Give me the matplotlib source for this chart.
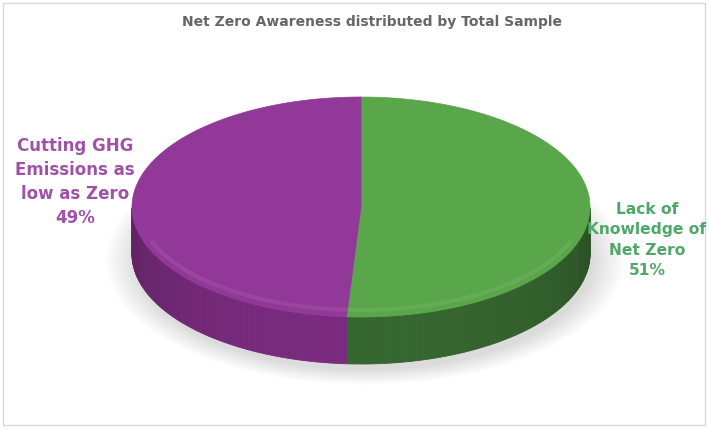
import numpy as np
import matplotlib
matplotlib.use("Agg")
import matplotlib.pyplot as plt
from matplotlib.patches import Polygon, Ellipse, Rectangle

title = "Net Zero Awareness distributed by Total Sample"
labels = ["Lack of\nKnowledge of\nNet Zero", "Cutting GHG\nEmissions as\nlow as Zero"]
values = [51, 49]
top_colors = ["#5aa64b", "#923898"]
side_colors = ["#315d2b", "#6f2774"]
text_colors = ["#4fa86a", "#a052a8"]

W, H = 709, 429
fig = plt.figure(figsize=(W / 100, H / 100), dpi=100)
ax = fig.add_axes([0, 0, 1, 1])
ax.set_xlim(0, W)
ax.set_ylim(H, 0)
ax.axis("off")

# frame
ax.add_patch(Rectangle((3, 3), W - 7, H - 7, fill=False, ec="#d9d9d9", lw=1))

cx, cy, a, b, depth = 361, 207, 229, 110, 47

# soft shadow
for i in range(12):
    s = 1 + i * 0.012
    ax.add_patch(Ellipse((cx + 4, cy + depth + 6), 2 * a * s, 2 * b * s,
                         color="#000000", alpha=0.012, lw=0, zorder=1))

fracs = np.array(values) / np.sum(values)
start = 90.0
angles = []
for f in fracs:
    end = start - f * 360
    angles.append((start, end))
    start = end

def pt(t):
    return cx + a * np.cos(np.radians(t)), cy - b * np.sin(np.radians(t))

# sides (front half only: 180..360 degrees)
for (s, e), sc in zip(angles, side_colors):
    lo, hi = min(s, e), max(s, e)
    ts = np.linspace(lo, hi, 200)
    ts_n = np.mod(ts, 360)
    front = ts[(ts_n >= 180) & (ts_n <= 360)]
    if len(front) < 2:
        continue
    n = len(front)
    base = np.array(matplotlib.colors.to_rgb(sc))
    for k in range(n - 1):
        t0, t1 = front[k], front[k + 1]
        x0, y0 = pt(t0)
        x1, y1 = pt(t1)
        shade = 0.85 + 0.25 * np.sin(np.radians(np.mod(t0, 360) - 180))
        col = np.clip(base * shade, 0, 1)
        ax.add_patch(Polygon([(x0, y0), (x1, y1), (x1, y1 + depth), (x0, y0 + depth)],
                             closed=True, fc=col, ec=col, lw=0.6, zorder=2))

# top faces
for (s, e), tc in zip(angles, top_colors):
    ts = np.linspace(s, e, 300)
    xs, ys = pt(ts)
    poly = [(cx, cy)] + list(zip(xs, ys))
    ax.add_patch(Polygon(poly, closed=True, fc=tc, ec=tc, lw=0.5, zorder=3))

# subtle bevel highlight near front edge of top
ts = np.linspace(200, 340, 200)
xs = cx + (a - 7) * np.cos(np.radians(ts))
ys = cy - (b - 7) * np.sin(np.radians(ts))
ax.plot(xs, ys, color="white", alpha=0.07, lw=3, zorder=4)

ax.text(372, 22, title, ha="center", va="center", fontsize=10, fontweight="bold",
        color="#666666", family="DejaVu Sans")

pos = [(647, 240), (75, 182)]
sizes = [11.2, 12]
for lab, v, tcol, (x, y), fs in zip(labels, values, text_colors, pos, sizes):
    ax.text(x, y, f"{lab}\n{v}%", ha="center", va="center", fontsize=fs,
            fontweight="bold", color=tcol, linespacing=1.45, family="DejaVu Sans",
            zorder=5)

fig.savefig("out.png", dpi=100, facecolor="white")
